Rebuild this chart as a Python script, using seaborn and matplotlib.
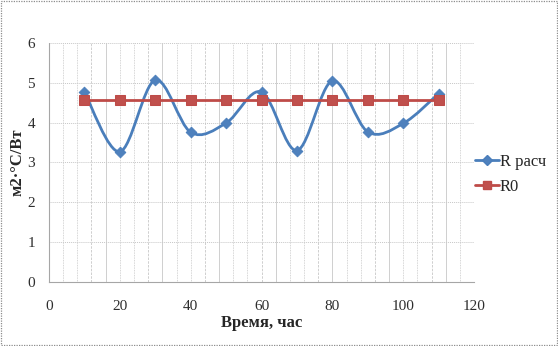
import numpy as np
import pandas as pd
import seaborn as sns
import matplotlib
matplotlib.use("Agg")
import matplotlib.pyplot as plt
from matplotlib.path import Path
from matplotlib.patches import PathPatch, Rectangle
from matplotlib.lines import Line2D

# Данные
time_h = [10, 20, 30, 40, 50, 60, 70, 80, 90, 100, 110]
r_calc = [4.77, 3.27, 5.07, 3.76, 3.99, 4.77, 3.30, 5.05, 3.77, 3.98, 4.73]
r0 = [4.56] * len(time_h)
x_ticks = [0, 20, 40, 60, 80, 100, 120]
y_ticks = [0, 1, 2, 3, 4, 5, 6]

BLUE = "#4A7EBB"
BLUE_M = "#4F81BD"
RED = "#BE4B48"
RED_M = "#C0504D"
GRID = "#C8C8C8"

sns.set_theme(style="white")
plt.rcParams["font.family"] = "serif"
plt.rcParams["font.serif"] = ["Liberation Serif", "DejaVu Serif"]

df = pd.DataFrame({"t": time_h, "r": r_calc, "r0": r0})

fig = plt.figure(figsize=(5.58, 3.46), dpi=100)
ax = fig.add_axes([0.0878, 0.185, 0.8495 - 0.0878, 0.8757 - 0.185])

# Сглаженная линия (кубические кривые Безье через точки)
pts = np.column_stack([df["t"].to_numpy(float), df["r"].to_numpy(float)])
verts = [tuple(pts[0])]
codes = [Path.MOVETO]
n = len(pts)
for i in range(n - 1):
    p0 = pts[i - 1] if i > 0 else pts[i]
    p1 = pts[i]
    p2 = pts[i + 1]
    p3 = pts[i + 2] if i + 2 < n else pts[i + 1]
    c1 = p1 + (p2 - p0) / 6.0
    c2 = p2 - (p3 - p1) / 6.0
    verts += [tuple(c1), tuple(c2), tuple(p2)]
    codes += [Path.CURVE4, Path.CURVE4, Path.CURVE4]
ax.add_patch(PathPatch(Path(verts, codes), facecolor="none", edgecolor=BLUE,
                       lw=2.0, zorder=3, capstyle="round", joinstyle="round"))

sns.scatterplot(data=df, x="t", y="r", marker="D", s=30, color=BLUE_M,
                edgecolor=BLUE, linewidth=0.6, ax=ax, zorder=4, legend=False)
sns.lineplot(data=df, x="t", y="r0", color=RED, lw=2.0, marker="s",
             markersize=7.5, markerfacecolor=RED_M, markeredgecolor=RED,
             ax=ax, zorder=5, legend=False)

ax.set_xlim(0, 120)
ax.set_ylim(0, 6)
ax.set_xticks(x_ticks)
ax.set_yticks(y_ticks)

# Сетка
for yv in y_ticks[1:]:
    ax.axhline(yv, color=GRID, lw=0.7, ls=(0, (1, 1)), zorder=1)
styles = [(0, (1, 1)), (0, (1, 1)), (0, (3, 1.5)), "-"]
for k, xv in enumerate(np.arange(4, 121, 4)):
    ax.axvline(xv, color=GRID, lw=0.6, ls=styles[k % 4], zorder=1)

for side in ["top", "right"]:
    ax.spines[side].set_visible(False)
for side in ["left", "bottom"]:
    ax.spines[side].set_color("#A6A6A6")
    ax.spines[side].set_linewidth(0.8)
    ax.spines[side].set_linestyle((0, (1, 1)))

ax.tick_params(axis="both", which="major", direction="out", length=4,
               width=0.8, color="#A6A6A6", labelsize=11, labelcolor="#2E2E2E")
ax.tick_params(axis="x", pad=9)
ax.tick_params(axis="y", pad=6)

ax.set_xlabel("Время, час", fontsize=12, fontweight="bold", va="center")
ax.xaxis.set_label_coords(0.5, -0.172)
ax.set_ylabel("м2·°C/Вт", fontsize=12, fontweight="bold", va="center")
ax.yaxis.set_label_coords(-0.075, 0.5)

handles = [
    Line2D([], [], color=BLUE, lw=2.0, marker="D", markersize=5,
           markerfacecolor=BLUE_M, markeredgecolor=BLUE),
    Line2D([], [], color=RED, lw=2.0, marker="s", markersize=6,
           markerfacecolor=RED_M, markeredgecolor=RED),
]
fig.legend(handles, ["R расч", "R0"], loc="center left",
           bbox_to_anchor=(0.851, 0.495), frameon=False, fontsize=12,
           handlelength=1.45, handletextpad=0.05, labelspacing=0.55,
           borderpad=0, borderaxespad=0)

# Рамка диаграммы
fig.patches.append(Rectangle((0.002, 0.003), 0.996, 0.994, transform=fig.transFigure,
                             fill=False, edgecolor="#8C8C8C", lw=0.9,
                             ls=(0, (1, 1))))

fig.savefig("out.png", dpi=100)
